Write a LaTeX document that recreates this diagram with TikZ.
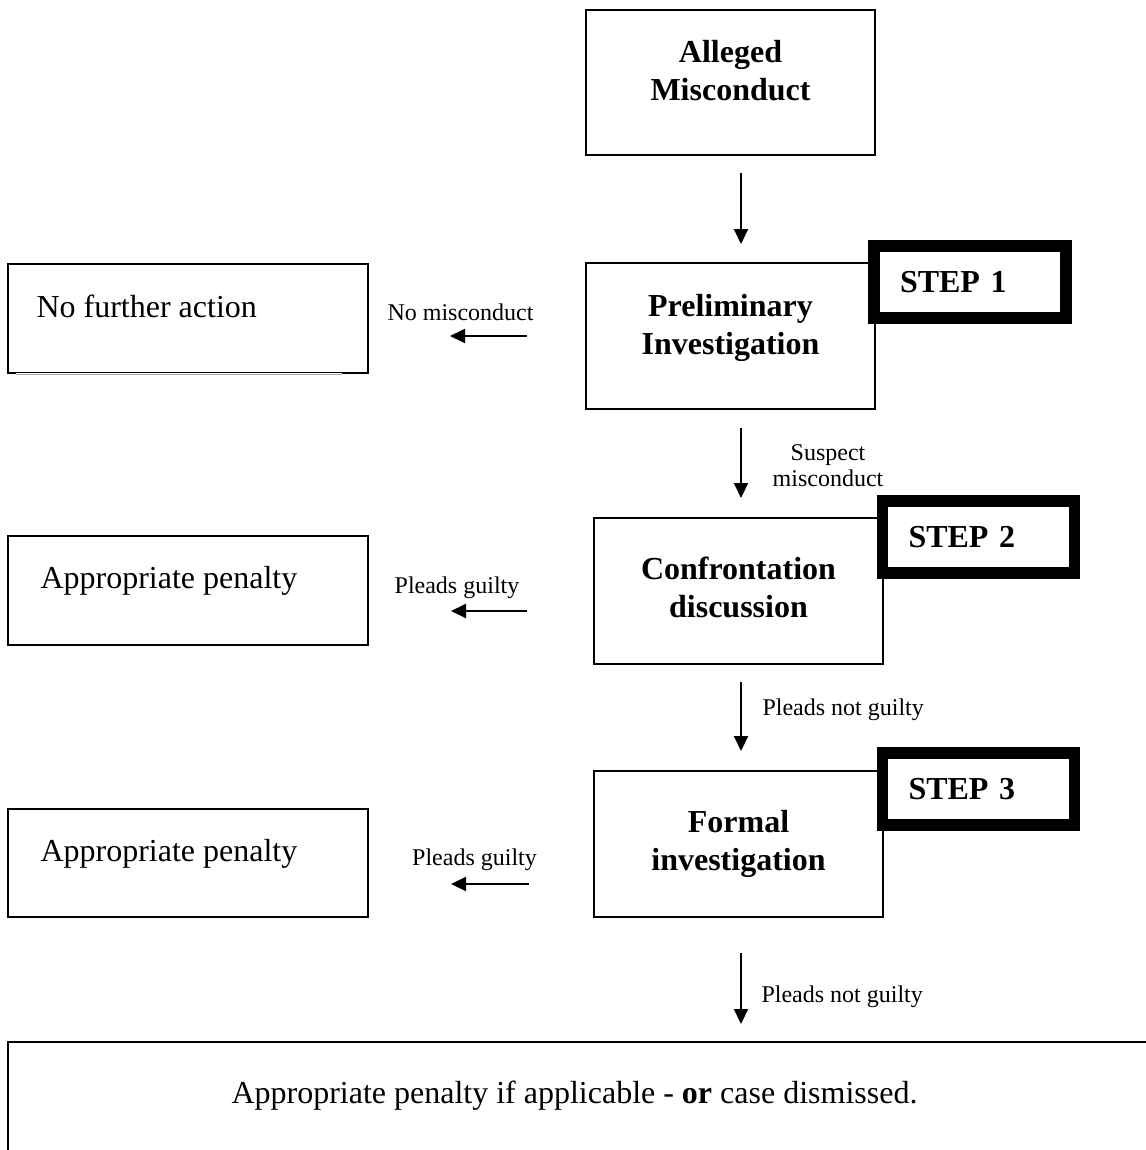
\documentclass[tikz,border=0pt]{standalone}
\usepackage{fontspec}
\setmainfont{Liberation Serif}
\usetikzlibrary{arrows.meta}
\tikzset{box/.style = {rectangle,draw,line width=0.75pt,inner sep=0pt,minimum width=108.375pt,minimum height=54.75pt},
         side/.style = {rectangle,draw,line width=0.75pt,inner sep=0pt,minimum width=135pt,minimum height=40.875pt},
         stepbox/.style = {rectangle,draw,fill=white,line width=4.3pt,inner xsep=9.75pt,inner ysep=0pt,
                           text width=52.5pt,align=left,minimum height=27pt,font=\fontsize{12}{14}\selectfont\bfseries},
         boxtext/.style = {anchor=base,align=center,inner sep=0pt,font=\fontsize{12}{14.25}\selectfont\bfseries},
         sidetext/.style = {anchor=base west,inner sep=0pt,font=\fontsize{12}{14}\selectfont},
         small/.style = {inner sep=0pt,font=\fontsize{9}{9.75}\selectfont},
         arr/.style = {line width=0.75pt,-{Triangle[length=5.625pt,width=5.25pt]}}}
\begin{document}
\begin{tikzpicture}[x=0.375pt,y=-0.375pt]
    \useasboundingbox (0,0) rectangle (1146,1150);
    \coordinate (m) at (741,0);

    % main column
    \node [box,minimum height=54.375pt,label={[boxtext,yshift=4.3pt]center:Alleged\\Misconduct}] (a) at (730.5,82.5) {};
    \node [box,label={[boxtext,yshift=3pt]center:Preliminary\\Investigation}] (b) at (730.5,336) {};
    \node [box,label={[boxtext,yshift=1.5pt]center:Confrontation\\discussion}] (c) at (738.5,591) {};
    \node [box,label={[boxtext,yshift=0pt]center:Formal\\investigation}] (d) at (738.5,844) {};
    \node [rectangle,draw,line width=0.75pt,inner sep=0pt,minimum width=432pt,minimum height=48pt,
           label={[anchor=base,inner sep=0pt,xshift=-3.5625pt,yshift=-23.25pt,font=\fontsize{12}{14}\selectfont]north:Appropriate penalty if applicable - \textbf{or} case dismissed.}] (e) at (584,1106) {};

    % steps
    \node [stepbox] (s1) at (970,282) {STEP 1};
    \node [stepbox] (s2) at (978.5,537) {STEP 2};
    \node [stepbox] (s3) at (978.5,789) {STEP 3};

    % outcomes
    \node [side,label={[sidetext,xshift=10.875pt,yshift=0.5625pt]west:No further action}] (n) at (188,318.5) {};
    \draw [white,line width=1pt] ([xshift=3.4pt]n.south west) -- ([xshift=-10pt]n.south east);
    \draw [gray!70,line width=0.35pt] ([xshift=3.4pt]n.south west) -- ([xshift=-10pt]n.south east);
    \node [side,label={[sidetext,xshift=12.375pt,yshift=0.9375pt]west:Appropriate penalty}] (p1) at (188,590.5) {};
    \node [side,minimum height=40.5pt,label={[sidetext,xshift=12.375pt,yshift=0.75pt]west:Appropriate penalty}] (p2) at (188,863) {};

    % arrows
    \draw [arr,shorten <=6.375pt,shorten >=6.75pt] (a.south -| m) -- (b.north -| m);
    \draw [arr,shorten <=6.75pt,shorten >=7.125pt] (b.south -| m) -- (c.north -| m);
    \draw [arr,shorten <=6.375pt,shorten >=7.125pt] (c.south -| m) -- (d.north -| m);
    \draw [arr,shorten <=13.125pt,shorten >=6.375pt] (d.south -| m) -- (e.north -| m);
    \draw [arr,shorten <=21.75pt,shorten >=30.375pt] (b.west) -- (b.west -| n.east);
    \draw [arr,shorten <=24.75pt,shorten >=30.75pt] ([yshift=-7.5pt]c.west) -- ([yshift=-7.5pt]c.west -| p1.east);
    \draw [arr,shorten <=24pt,shorten >=30.75pt] ([yshift=-15pt]d.west) -- ([yshift=-15pt]d.west -| p2.east);

    % arrow labels
    \node [small,anchor=base] (l1) at (460.5,320) {No misconduct};
    \node [small,anchor=base,align=center] (l2) at (828,486) {Suspect\\misconduct};
    \node [small,anchor=base] (l3) at (457,593) {Pleads guilty};
    \node [small,anchor=base west] (l4) at (762,715) {Pleads not guilty};
    \node [small,anchor=base] (l5) at (474.5,865) {Pleads guilty};
    \node [small,anchor=base west] (l6) at (761,1002) {Pleads not guilty};
\end{tikzpicture}
\end{document}
